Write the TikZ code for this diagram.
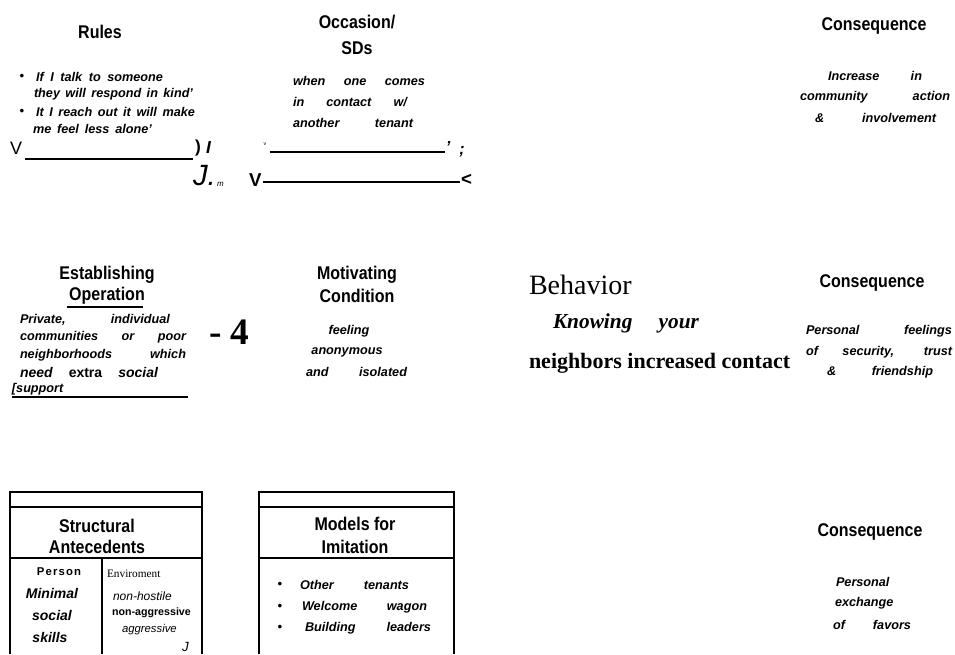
\documentclass[tikz,border=0pt]{standalone}
\usepackage{fontspec}
\setmainfont{Liberation Sans}
\newfontfamily\serifface{Liberation Serif}
\newlength\pxu
\setlength\pxu{0.75pt}
\newcommand\spreadline[2]{\makebox[#1\pxu][s]{#2}}
\newcommand\tallhead[1]{\scalebox{1}[1.15]{#1}}
\begin{document}
\begin{tikzpicture}[x=0.75pt,y=-0.75pt,
  txt/.style={inner sep=0pt, outer sep=0pt},
  hd/.style={txt, font=\fontsize{12}{15}\selectfont\bfseries, align=center},
  bi/.style={txt, anchor=west, font=\fontsize{9.5}{12}\selectfont\bfseries\itshape},
  dot/.style={txt, font=\fontsize{10}{10}\selectfont},
  rulebar/.style={line width=1.6pt},
  thickbar/.style={line width=2.2pt},
  boxline/.style={line width=0.8pt}]
\useasboundingbox (0,0) rectangle (955,654);
\fill[white] (0,0) rectangle (955,654);

% ---------- Rules ----------
\node[hd] (rules) at (100,32) {\tallhead{Rules}};
\node[dot] (rb1) at (22,77) {•};
\node[bi] (r1) at (36,77) {\spreadline{127}{If I talk to someone}};
\node[bi] (r2) at (34,94) {\spreadline{159}{they will respond in kind'}};
\node[dot] (rb2) at (22,112) {•};
\node[bi] (r3) at (36,112) {\spreadline{159}{It I reach out it will make}};
\node[bi] (r4) at (33,129) {\spreadline{119}{me feel less alone'}};
\node[txt, anchor=west, font=\fontsize{13.5}{13.5}\selectfont] (v1) at (10,148) {V};
\coordinate (u1a) at (25,159);
\coordinate (u1b) at (193,159);
\draw[rulebar] (u1a) -- (u1b);
\node[txt, anchor=west, font=\fontsize{13}{13}\selectfont\bfseries] (par1) at (195,148) {)};
\node[txt, anchor=west, font=\fontsize{13}{13}\selectfont\bfseries\itshape] (sl1) at (206,148) {I};
\node[txt, anchor=west, font=\fontsize{22}{22}\selectfont\itshape] (jj) at (193,176) {J.};
\node[txt, anchor=west, font=\fontsize{6}{6}\selectfont\itshape] (mm) at (217,184) {m};

% ---------- Occasion / SDs ----------
\node[hd] (occ1) at (357,22) {\tallhead{Occasion/}};
\node[hd] (occ2) at (357,48) {\tallhead{SDs}};
\node[bi] (o1) at (293,81) {\spreadline{132}{when one comes}};
\node[bi] (o2) at (293,102) {\spreadline{114}{in contact w/}};
\node[bi] (o3) at (293,123) {\spreadline{120}{another tenant}};
\node[txt, font=\fontsize{4}{4}\selectfont] (tick) at (265,144) {v};
\coordinate (u2a) at (270,152);
\coordinate (u2b) at (445,152);
\draw[rulebar] (u2a) -- (u2b);
\node[txt, font=\fontsize{12}{12}\selectfont\bfseries\itshape] (ap2) at (448,147) {'};
\node[txt, font=\fontsize{12}{12}\selectfont\bfseries\itshape] (sc2) at (462,152) {;};
\node[txt, anchor=west, font=\fontsize{14}{14}\selectfont\bfseries] (v2) at (249,180) {V};
\coordinate (u3a) at (263,182);
\coordinate (u3b) at (460,182);
\draw[thickbar] (u3a) -- (u3b);
\node[txt, anchor=west, font=\fontsize{14}{14}\selectfont\bfseries] (lt2) at (461,180) {<};

% ---------- Consequence (top) ----------
\node[hd] (c1) at (874,26) {\tallhead{Consequence}};
\node[bi] (c1a) at (828,76) {\spreadline{94}{Increase in}};
\node[bi] (c1b) at (800,97) {\spreadline{150}{community action}};
\node[bi] (c1c) at (815,118) {\spreadline{121}{\& involvement}};

% ---------- Establishing Operation ----------
\node[hd] (eo1) at (107,275) {\tallhead{Establishing}};
\node[hd] (eo2) at (107,296) {\tallhead{Operation}};
\coordinate (u4a) at (67,307);
\coordinate (u4b) at (143,307);
\draw[line width=1.1pt] (u4a) -- (u4b);
\node[bi] (e1) at (20,320) {\spreadline{150}{Private, individual}};
\node[bi] (e2) at (20,337) {\spreadline{166}{communities or poor}};
\node[bi] (e3) at (20,355) {\spreadline{166}{neighborhoods which}};
\node[txt, anchor=west, font=\fontsize{10.5}{12}\selectfont\bfseries] (e4) at (20,372) {\spreadline{138}{\itshape need \upshape extra \itshape social}};
\node[bi] (e5) at (12,389) {[support};
\coordinate (u5a) at (12,397);
\coordinate (u5b) at (188,397);
\draw[line width=1.5pt] (u5a) -- (u5b);
\node[txt, anchor=west, font=\serifface\fontsize{28}{28}\selectfont\bfseries] (four) at (209,332) {- 4};

% ---------- Motivating Condition ----------
\node[hd] (mc1) at (357,275) {\tallhead{Motivating}};
\node[hd] (mc2) at (357,296) {\tallhead{Condition}};
\node[bi, anchor=center] (m1) at (349,331) {feeling};
\node[bi, anchor=center] (m2) at (347,352) {anonymous};
\node[bi] (m3) at (306,372) {\spreadline{101}{and isolated}};

% ---------- Behavior ----------
\node[txt, anchor=west, font=\serifface\fontsize{21}{21}\selectfont] (beh) at (529,285) {Behavior};
\node[txt, anchor=west, font=\serifface\fontsize{16}{16}\selectfont\bfseries\itshape] (beh1) at (553,323) {\spreadline{146}{Knowing your}};
\node[txt, anchor=west, font=\serifface\fontsize{16.5}{16.5}\selectfont\bfseries] (beh2) at (529,363) {neighbors increased contact};

% ---------- Consequence (middle) ----------
\node[hd] (c2) at (872,283) {\tallhead{Consequence}};
\node[bi] (c2a) at (806,331) {\spreadline{146}{Personal feelings}};
\node[bi] (c2b) at (806,352) {\spreadline{146}{of security, trust}};
\node[bi] (c2c) at (827,372) {\spreadline{106}{\& friendship}};

% ---------- Structural Antecedents box ----------
\coordinate (sa-bl) at (10,654);
\coordinate (sa-tl) at (10,492);
\coordinate (sa-tr) at (202,492);
\coordinate (sa-br) at (202,654);
\draw[boxline] (sa-bl) -- (sa-tl) -- (sa-tr) -- (sa-br);
\draw[boxline] (10,507) -- (202,507);
\draw[boxline] (10,558) -- (202,558);
\draw[boxline] (102,558) -- (102,654);
\node[hd] (sa1) at (97,526) {\tallhead{Structural}};
\node[hd] (sa2) at (97,547) {\tallhead{Antecedents}};
\node[txt, font=\fontsize{8.5}{8.5}\selectfont\bfseries\addfontfeature{LetterSpace=10}] (pers) at (59,572) {Person};
\node[txt, font=\fontsize{10.5}{10.5}\selectfont\bfseries\itshape] (min) at (52,593) {Minimal};
\node[txt, font=\fontsize{10.5}{10.5}\selectfont\bfseries\itshape] (soc) at (52,615) {social};
\node[txt, font=\fontsize{10.5}{10.5}\selectfont\bfseries\itshape] (skl) at (50,637) {skills};
\node[txt, anchor=west, font=\serifface\fontsize{8.5}{8.5}\selectfont] (env) at (107,574) {Enviroment};
\node[txt, anchor=west, font=\fontsize{9}{9}\selectfont\itshape] (nh) at (113,596) {non-hostile};
\node[txt, anchor=west, font=\fontsize{8}{8}\selectfont\bfseries] (na) at (112,613) {non-aggressive};
\node[txt, anchor=west, font=\fontsize{8.5}{8.5}\selectfont\itshape] (ag) at (122,630) {aggressive};
\node[txt, anchor=west, font=\fontsize{10}{10}\selectfont\itshape] (jb) at (182,647) {J};

% ---------- Models for Imitation box ----------
\coordinate (mi-bl) at (259,654);
\coordinate (mi-tl) at (259,492);
\coordinate (mi-tr) at (454,492);
\coordinate (mi-br) at (454,654);
\draw[boxline] (mi-bl) -- (mi-tl) -- (mi-tr) -- (mi-br);
\draw[boxline] (259,507) -- (454,507);
\draw[boxline] (259,558) -- (454,558);
\node[hd] (mi1) at (355,524) {\tallhead{Models for}};
\node[hd] (mi2) at (355,547) {\tallhead{Imitation}};
\node[dot] (mb1) at (280,585) {•};
\node[dot] (mb2) at (280,607) {•};
\node[dot] (mb3) at (280,628) {•};
\node[bi] (mia) at (300,585) {\spreadline{109}{Other tenants}};
\node[bi] (mib) at (302,607) {\spreadline{125}{Welcome wagon}};
\node[bi] (mic) at (305,628) {\spreadline{126}{Building leaders}};

% ---------- Consequence (bottom) ----------
\node[hd] (c3) at (870,532) {\tallhead{Consequence}};
\node[bi] (c3a) at (836,582) {Personal};
\node[bi] (c3b) at (835,603) {exchange};
\node[bi] (c3c) at (833,625) {\spreadline{78}{of favors}};
\end{tikzpicture}
\end{document}
